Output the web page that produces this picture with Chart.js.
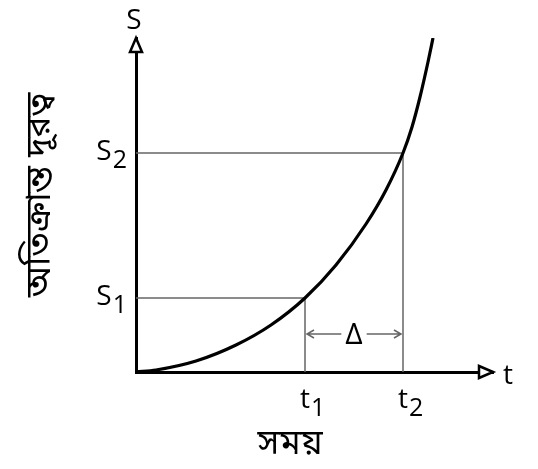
<!DOCTYPE html>
<html>
<head>
<meta charset="utf-8">
<script src="https://cdn.jsdelivr.net/npm/chart.js@4"></script>
<style>
  body { margin: 0; background: #fff; }
  #wrap { width: 538px; height: 469px; }
</style>
</head>
<body>
<div id="wrap"><canvas id="distChart"></canvas></div>
<script>
// distance travelled against time
const curveT = [0, 20, 60, 100, 135, 169, 200, 230, 250, 267, 276, 284, 292, 297];
const curveS = [0, 2, 11, 27, 47, 74, 107, 148, 182, 219, 245, 275, 310, 334];

// marked instants and the matching distances
const markT = [169, 267];
const markS = [74, 219];
const markNames = ['1', '2'];
const deltaLevel = 38;

const axisMaxT = 357;
const axisMaxS = 334;

const labelFont = '"Open Sans", "DejaVu Sans", sans-serif';
const bnFont = '"Noto Sans Bengali", "Lohit Bengali", "Noto Sans", "FreeSans", sans-serif';

function guide(i) {
  return [
    { x: 0, y: markS[i] },
    { x: markT[i], y: markS[i] },
    { x: markT[i], y: 0 }
  ];
}

function withSub(ctx, main, sub, x, base, align) {
  ctx.font = '28px ' + labelFont;
  const wm = ctx.measureText(main).width;
  ctx.font = '25px ' + labelFont;
  const ws = ctx.measureText(sub).width;
  let left;
  if (align === 'right') left = x - wm - ws - 1;
  else left = x - wm / 2;
  ctx.textAlign = 'left';
  ctx.textBaseline = 'alphabetic';
  ctx.font = '28px ' + labelFont;
  ctx.fillText(main, left, base);
  ctx.font = '25px ' + labelFont;
  ctx.fillText(sub, left + wm + 1, base + 8);
}

const annotate = {
  id: 'annotate',
  afterDraw(chart) {
    const { ctx, chartArea: a, scales: { x, y } } = chart;
    ctx.save();
    ctx.fillStyle = '#000';
    ctx.strokeStyle = '#000';

    // arrow heads on both axes
    ctx.lineWidth = 2.5;
    ctx.lineJoin = 'miter';
    ctx.beginPath();
    ctx.moveTo(a.left, a.top);
    ctx.lineTo(a.left - 6, a.top + 14);
    ctx.lineTo(a.left + 6, a.top + 14);
    ctx.closePath();
    ctx.fillStyle = '#fff';
    ctx.fill();
    ctx.stroke();
    ctx.beginPath();
    ctx.moveTo(a.right, a.bottom);
    ctx.lineTo(a.right - 14, a.bottom - 6);
    ctx.lineTo(a.right - 14, a.bottom + 6);
    ctx.closePath();
    ctx.fill();
    ctx.stroke();
    ctx.fillStyle = '#000';

    // axis letters
    ctx.font = '28px ' + labelFont;
    ctx.textAlign = 'center';
    ctx.textBaseline = 'alphabetic';
    ctx.fillText('S', a.left - 2, 29);
    ctx.textAlign = 'left';
    ctx.fillText('t', a.right + 10, a.bottom + 12);

    // S1, S2 and t1, t2
    markS.forEach((s, i) => withSub(ctx, 'S', markNames[i], a.left - 9, y.getPixelForValue(s) + 7, 'right'));
    markT.forEach((t, i) => withSub(ctx, 't', markNames[i], x.getPixelForValue(t), a.bottom + 36, 'center'));

    // Δ between t1 and t2
    const x1 = x.getPixelForValue(markT[0]);
    const x2 = x.getPixelForValue(markT[1]);
    const yd = y.getPixelForValue(deltaLevel);
    const xm = (x1 + x2) / 2;
    ctx.font = '30px ' + labelFont;
    ctx.textAlign = 'center';
    ctx.fillText('Δ', xm, yd + 10);
    const half = ctx.measureText('Δ').width / 2 + 4;
    ctx.strokeStyle = '#666';
    ctx.lineWidth = 1.5;
    ctx.beginPath();
    ctx.moveTo(x1 + 2, yd); ctx.lineTo(xm - half, yd);
    ctx.moveTo(xm + half, yd); ctx.lineTo(x2 - 2, yd);
    ctx.moveTo(x1 + 9, yd - 4); ctx.lineTo(x1 + 2, yd); ctx.lineTo(x1 + 9, yd + 4);
    ctx.moveTo(x2 - 9, yd - 4); ctx.lineTo(x2 - 2, yd); ctx.lineTo(x2 - 9, yd + 4);
    ctx.stroke();

    // Bengali axis names
    ctx.fillStyle = '#000';
    ctx.font = '35px ' + bnFont;
    ctx.textAlign = 'center';
    ctx.textBaseline = 'middle';
    ctx.fillText('সময়', 290, 447);
    ctx.translate(43, 195);
    ctx.rotate(-Math.PI / 2);
    ctx.fillText('অতিক্রান্ত দূরত্ব', 0, 0);
    ctx.restore();
  }
};

const axisStyle = {
  type: 'linear',
  min: 0,
  ticks: { display: false },
  grid: { display: false, drawTicks: false },
  border: { display: true, color: '#000', width: 3 }
};

new Chart(document.getElementById('distChart'), {
  type: 'scatter',
  data: {
    datasets: [
      {
        data: curveT.map((t, i) => ({ x: t, y: curveS[i] })),
        showLine: true,
        borderColor: '#000',
        borderWidth: 3.2,
        pointRadius: 0,
        cubicInterpolationMode: 'monotone'
      },
      {
        data: guide(0),
        showLine: true,
        borderColor: '#666',
        borderWidth: 1.5,
        pointRadius: 0
      },
      {
        data: guide(1),
        showLine: true,
        borderColor: '#666',
        borderWidth: 1.5,
        pointRadius: 0
      }
    ]
  },
  options: {
    responsive: true,
    maintainAspectRatio: false,
    animation: false,
    layout: { padding: { left: 136, top: 38, right: 45, bottom: 97 } },
    plugins: { legend: { display: false }, tooltip: { enabled: false } },
    scales: {
      x: Object.assign({}, axisStyle, { max: axisMaxT }),
      y: Object.assign({}, axisStyle, { max: axisMaxS })
    }
  },
  plugins: [annotate]
});
</script>
</body>
</html>
